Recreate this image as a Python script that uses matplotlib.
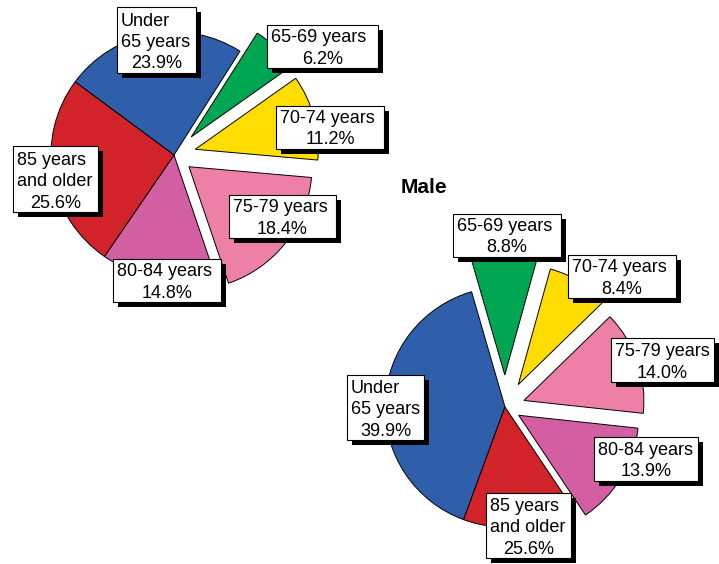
import matplotlib
matplotlib.use("Agg")
import matplotlib.pyplot as plt
from matplotlib.patches import Rectangle

W, H = 719, 564

categories = ["Under\n65 years", "65-69 years", "70-74 years",
              "75-79 years", "80-84 years", "85 years\nand older"]
female_pct = [23.9, 6.2, 11.2, 18.4, 14.8, 25.6]
# percentages as printed on the male chart
male_pct = [39.9, 8.8, 8.4, 14.0, 13.9, 25.6]
# male wedge sizes as drawn (the 85+ wedge is drawn at ~15%)
male_wedge = [39.9, 8.8, 8.4, 14.0, 13.9, 15.0]

colors = ["#2F5EAA", "#00A651", "#FFDD00", "#EE80A8", "#D35FA2", "#D2232A"]

plt.rcParams["font.family"] = ["Liberation Sans", "DejaVu Sans"]

fig = plt.figure(figsize=(W / 100, H / 100), dpi=100)
ax = fig.add_axes([0, 0, 1, 1])


def Y(py):
    return H - py


wp = dict(edgecolor="black", linewidth=0.7)

ax.pie(female_pct, colors=colors, startangle=143.5, counterclock=False,
       explode=[0, 25, 22, 19, 0, 0], center=(174, Y(155)), radius=123,
       wedgeprops=wp, normalize=True)
ax.pie(male_wedge, colors=colors, startangle=249.8, counterclock=False,
       explode=[0, 32, 26, 20, 16, 0], center=(505, Y(407)), radius=120,
       wedgeprops=wp, normalize=True)

ax.set_xlim(0, W)
ax.set_ylim(0, H)
ax.set_aspect("equal")
ax.axis("off")

FS = 13


def label_box(box, label, pct):
    l, t, r, b = box
    ax.add_patch(Rectangle((l + 4.5, Y(b + 4.5)), r - l, b - t,
                           facecolor="black", edgecolor="none", zorder=4))
    ax.add_patch(Rectangle((l, Y(b)), r - l, b - t, facecolor="white",
                           edgecolor="black", linewidth=0.8, zorder=5))
    lines = label.split("\n")
    n = len(lines) + 1
    for i, line in enumerate(lines):
        base = b - 4.5 - 21.3 * (n - 1 - i)
        ax.text(l + 4, Y(base), line, ha="left", va="baseline",
                fontsize=FS, zorder=6)
    ax.text((l + r) / 2, Y(b - 4.5), f"{pct:.1f}%", ha="center",
            va="baseline", fontsize=FS, zorder=6)


female_boxes = [(117, 7, 196, 73), (267, 25, 378, 68), (276, 106, 384, 149),
                (229, 195, 336, 238), (113, 259, 221, 302), (13, 146, 98, 212)]
male_boxes = [(347, 375, 424, 440), (453, 214, 561, 257), (568, 255, 676, 298),
              (611, 338, 714, 382), (594, 437, 698, 481), (486, 493, 571, 558)]

for box, lab, p in zip(female_boxes, categories, female_pct):
    label_box(box, lab, p)
for box, lab, p in zip(male_boxes, categories, male_pct):
    label_box(box, lab, p)

ax.text(423.5, Y(193), "Male", ha="center", va="baseline", fontsize=15,
        fontweight="bold")

fig.savefig("out.png", dpi=100)
